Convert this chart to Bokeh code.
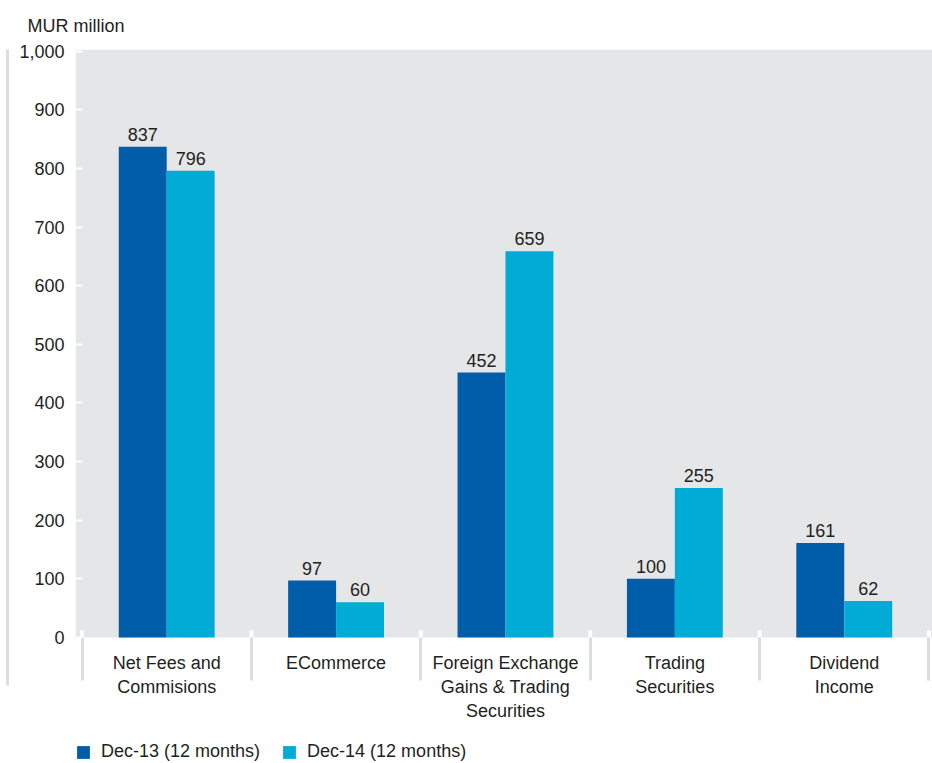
from bokeh.plotting import figure
from bokeh.models import (ColumnDataSource, FixedTicker, NumeralTickFormatter, LinearAxis,
                          Legend, LegendItem, Range1d, BoxAnnotation)
from bokeh.transform import dodge
from bokeh.core.properties import value
from bokeh.embed import file_html
from bokeh.resources import INLINE

# ---- data ----
categories = ["Net Fees and\nCommisions", "ECommerce",
              "Foreign Exchange\nGains & Trading\nSecurities",
              "Trading\nSecurities", "Dividend\nIncome"]
dec13 = [837, 97, 452, 100, 161]
dec14 = [796, 60, 659, 255, 62]
series_names = ["Dec-13 (12 months)", "Dec-14 (12 months)"]
y_ticks = [0, 100, 200, 300, 400, 500, 600, 700, 800, 900, 1000]
unit_title = "MUR million"

# ---- styles ----
FONT = "Liberation Sans"
TEXT = "#231f20"
DARK = "#005da9"
LIGHT = "#00acd6"
BG = "#e5e6e8"
SEP = "#dcdddf"
FS = "18px"

n = len(categories)
centers = [i + 0.5 for i in range(n)]
bounds = [i for i in range(n + 1)]
BW = 0.283
Y_TOP = 1003
Y_BOTTOM = -215   # white area below the zero line (category labels + legend)

src = ColumnDataSource(dict(x=centers, dec13=dec13, dec14=dec14,
                            l13=[str(v) for v in dec13], l14=[str(v) for v in dec14]))

p = figure(width=932, height=763, x_range=Range1d(-0.0384, 5.021), y_range=Range1d(Y_BOTTOM, Y_TOP),
           output_backend="svg", toolbar_location=None, title=unit_title,
           min_border_left=75, min_border_right=0, min_border_top=49, min_border_bottom=0)

p.title.align = "left"
p.title.offset = -48
p.title.text_font = FONT
p.title.text_font_size = FS
p.title.text_font_style = "normal"
p.title.text_color = TEXT
p.title.standoff = 27

p.background_fill_color = "white"
p.border_fill_color = "white"
p.outline_line_color = None
p.xgrid.grid_line_color = None
p.ygrid.grid_line_color = None

# grey plotting area above the zero line
p.add_layout(BoxAnnotation(bottom=0, fill_color=BG, fill_alpha=1, line_color=None, level="underlay"))

# y axis
ya = p.yaxis[0]
ya.ticker = FixedTicker(ticks=y_ticks)
ya.formatter = NumeralTickFormatter(format="0,0")
ya.major_label_standoff = 11
ya.major_tick_in = 7
ya.major_tick_out = 0
ya.major_tick_line_color = "white"
ya.major_tick_line_width = 2
ya.minor_tick_line_color = None
ya.axis_line_color = None
ya.major_label_text_font = FONT
ya.major_label_text_font_size = FS
ya.major_label_text_color = TEXT
ya.axis_label = " "
ya.axis_label_standoff = 0
ya.axis_label_text_font_size = "6px"

# extra left line
left_line = LinearAxis(ticker=FixedTicker(ticks=[]), axis_line_color=SEP, axis_line_width=3,
                       major_tick_line_color=None, minor_tick_line_color=None,
                       bounds=(-82, Y_TOP))
p.add_layout(left_line, "left")

# x axis drawn on the zero line
xa = p.xaxis[0]
xa.fixed_location = 0
xa.ticker = FixedTicker(ticks=centers, minor_ticks=bounds)
xa.major_label_overrides = {c: lab for c, lab in zip(centers, categories)}
xa.major_tick_line_color = None
xa.major_tick_in = 0
xa.major_tick_out = 0
xa.minor_tick_in = 0
xa.minor_tick_out = 43
xa.minor_tick_line_color = SEP
xa.minor_tick_line_width = 3
xa.axis_line_color = None
xa.major_label_standoff = -27
xa.major_label_text_font = FONT
xa.major_label_text_font_size = FS
xa.major_label_text_color = TEXT
xa.major_label_text_line_height = 1.2

# white in-frame ticks at category boundaries
p.segment(x0=bounds, y0=[0] * len(bounds), x1=bounds, y1=[12] * len(bounds),
          line_color="white", line_width=4)

r1 = p.vbar(x=dodge("x", -BW / 2, range=p.x_range), top="dec13", width=BW, source=src,
            fill_color=DARK, line_color=None)
r2 = p.vbar(x=dodge("x", BW / 2, range=p.x_range), top="dec14", width=BW, source=src,
            fill_color=LIGHT, line_color=None)

for off, col in ((-BW / 2, "l13"), (BW / 2, "l14")):
    ycol = "dec13" if col == "l13" else "dec14"
    p.text(x=dodge("x", off, range=p.x_range), y=ycol, text=col, source=src,
           text_align="center", text_baseline="bottom", y_offset=-6,
           text_font=value(FONT), text_font_size=FS, text_color=TEXT)

legend = Legend(items=[LegendItem(label=series_names[0], renderers=[r1]),
                       LegendItem(label=series_names[1], renderers=[r2])],
                orientation="horizontal", location=(0, 1),
                glyph_width=16, glyph_height=16, label_standoff=10, spacing=21,
                padding=0, margin=0, border_line_color=None, background_fill_alpha=0,
                label_text_font=FONT, label_text_font_size="18px", label_text_color=TEXT)
p.add_layout(legend)

open("out.html", "w").write(file_html(p, INLINE))
